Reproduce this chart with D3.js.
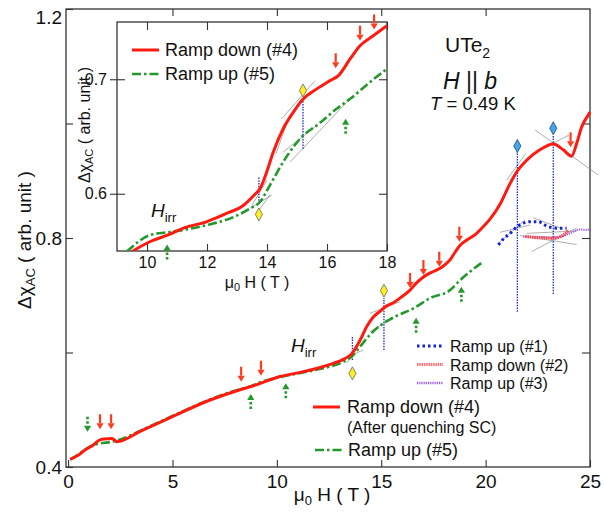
<!DOCTYPE html>
<html>
<head>
<meta charset="utf-8">
<script src="https://cdn.jsdelivr.net/npm/d3@7"></script>
<style>
body{margin:0;background:#fff;}
svg{font-family:"Liberation Sans",Arial,Helvetica,sans-serif;}
</style>
</head>
<body>
<svg id="chart" width="604" height="515"></svg>
<script>
// values: [field mu0H (T), delta chi_AC (arb. unit)]
const rampDown4 = [[0.1,0.4135],[0.5,0.421],[0.81,0.4297],[1.21,0.4384],[1.45,0.446],[1.69,0.449],[2.09,0.450],[2.22,0.447],[2.33,0.444],
  [3.5,0.463],[5.0,0.488],[6.8,0.517],[8.24,0.535],[8.8,0.541],[9.2,0.546],[10.15,0.558],[10.95,0.564],[11.9,0.572],
  [12.7,0.581],[13.19,0.588],[13.59,0.598],[13.98,0.621],[14.3,0.645],[14.62,0.662],[14.94,0.672],[15.2,0.68],[15.58,0.687],[15.9,0.695],
  [16.38,0.709],[16.7,0.722],[17.02,0.732],[17.4,0.740],[17.82,0.747],[18.1,0.755],[18.3,0.762],[18.55,0.776],[18.77,0.787],[19.1,0.7965],
  [19.5,0.806],[19.89,0.82],[20.21,0.833],[20.69,0.859],[21.17,0.895],[21.54,0.918],[21.97,0.936],[22.6,0.954],[23.24,0.964],[23.72,0.954],
  [24.12,0.943],[24.36,0.965],[24.6,0.994],[24.92,1.015],[25.0,1.02]];
const rampUp5 = [[0.1,0.4135],[0.5,0.422],[0.9,0.4327],[1.2,0.438],[1.53,0.4413],[1.93,0.443],[2.25,0.4454],[2.5,0.448],[3.5,0.464],
  [5.0,0.489],[6.8,0.518],[8.24,0.536],[8.75,0.541],[9.2,0.548],[10.15,0.557],[10.95,0.563],[11.9,0.570],[12.7,0.577],[13.19,0.584],[13.59,0.593],
  [13.98,0.61],[14.46,0.631],[15.1,0.651],[15.42,0.658],[15.74,0.664],[16.54,0.677],[17.34,0.695],[18.3,0.709],[18.77,0.726],[19.25,0.741],
  [19.9,0.759]];
const rampUp1 = [[20.61,0.788],[20.9,0.800],[21.17,0.808],[21.45,0.818],[21.65,0.823],[22.13,0.8285],[22.52,0.8285],[22.92,0.821],[23.4,0.817],[23.88,0.817]];
const rampDown2 = [[21.9,0.803],[22.3,0.801],[22.6,0.8005],[23.24,0.7995],[23.55,0.802],[23.72,0.805],[23.96,0.813]];
const rampUp3 = [[21.8,0.802],[22.4,0.802],[23.0,0.801],[23.56,0.802],[23.9,0.806],[24.2,0.811],[24.52,0.815],[24.84,0.814],[25.0,0.816]];

// inset (zoom of 9-18 T)
const insetDown4 = [[9.5,0.5496],[10.11,0.5583],[10.7,0.564],[11.22,0.57],[12.0,0.5757],[12.67,0.583],[13.22,0.59],[13.56,0.5985],
  [13.77,0.6046],[13.99,0.619],[14.21,0.6365],[14.54,0.6568],[14.88,0.6713],[15.19,0.6823],[15.66,0.6916],[16.1,0.6988],[16.38,0.7032],
  [16.77,0.7177],[17.1,0.7293],[17.54,0.738],[17.99,0.7467]];
const insetUp5 = [[9.33,0.5496],[10.11,0.564],[10.67,0.5663],[11.22,0.5684],[12.0,0.5727],[12.78,0.5785],[13.44,0.5872],[13.77,0.593],
  [14.1,0.6076],[14.54,0.6278],[14.88,0.6409],[15.21,0.651],[15.66,0.6597],[16.32,0.6742],[16.77,0.6829],[17.43,0.6974],[17.99,0.709]];

// arrows: [field, value at arrow tip]
const redArrows = [[1.53,0.466],[2.06,0.466],[8.29,0.549],[9.24,0.5595],[16.38,0.7127],[17.02,0.7354],[17.78,0.7499],[18.74,0.7935],[24.07,0.9584]];
const greenDownArrows = [[0.93,0.4617]];
const greenUpArrows = [[8.75,0.5275],[10.43,0.5462],[16.67,0.6608],[18.84,0.7149]];
const insetRedArrows = [[16.29,0.7096],[17.1,0.7337],[17.57,0.7435]];
const insetGreenArrows = [[10.67,0.5557],[16.62,0.6655]];

// transition markers: [field, lower, upper] and diamonds [field, value]
const markerLines = [[13.62,0.5869,0.6293],[15.13,0.6044,0.6952],[21.52,0.6713,0.9502],[23.24,0.7022,0.9799]];
const yellowDiamonds = [[13.62,0.5637],[15.13,0.708]];
const blueDiamonds = [[21.52,0.9607],[23.24,0.9916]];
const insetMarkerLines = [[13.73,0.5916,0.6148],[15.2,0.6394,0.6843]];
const insetDiamonds = [[13.73,0.582],[15.2,0.6902]];

// thin gray tangents [h1,v1,h2,v2]
const tangents = [[13.03,0.5869,14.14,0.6044],[13.35,0.5817,13.95,0.617],[14.46,0.6685,15.9,0.6887],[14.46,0.6363,15.58,0.6597],
  [21.0,0.901,21.93,0.948],[22.37,0.9886,25.4,0.91],[23.2,0.965,24.0,0.98],
  [20.61,0.7908,21.89,0.8318],[20.69,0.8099,22.13,0.8227],[22.28,0.8353,23.56,0.8178],[21.65,0.8043,24.36,0.7886],
  [22.21,0.7764,24.36,0.8175],[21.97,0.8081,24.36,0.8122]];
const insetTangents = [[14.49,0.6655,15.6,0.6988],[14.3,0.635,14.75,0.668],[14.54,0.6365,15.66,0.6597],[14.77,0.6278,16.66,0.68],
  [13.43,0.5872,14.16,0.5989],[13.66,0.5832,14.1,0.5989],[13.5,0.590,14.0,0.612]];

const xTicks = [0,5,10,15,20,25];
const yTicks = [0.4,0.6,0.8,1.0,1.2];
const yLabelled = [0.4,0.8,1.2];
const insetXTicks = [10,12,14,16,18];
const insetYTicks = [0.6,0.7];

const RED = "#ff1a10", GREEN = "#22992a", ARROW_RED = "#ff3b1f";

const svg = d3.select("#chart");
const x = d3.scaleLinear().domain([-0.1,25]).range([66,590]);
const y = d3.scaleLinear().domain([0.4,1.2]).range([467,9]);
const xi = d3.scaleLinear().domain([9,18]).range([117,387]);
const yi = d3.scaleLinear().domain([0.55,0.75]).range([251,22]);

const tidy = g => {
  g.select(".domain").remove();
  g.selectAll(".tick line").attr("stroke","#333").attr("stroke-width",1.1);
  g.selectAll(".tick text").attr("fill","#111").attr("font-family",null);
};

// ---- main frame & axes
svg.append("rect").attr("x",66).attr("y",9).attr("width",524).attr("height",458)
  .attr("fill","none").attr("stroke","#333").attr("stroke-width",1.3);

svg.append("g").attr("transform","translate(0,467)")
  .call(d3.axisBottom(x).tickValues(xTicks).tickSizeInner(-7).tickSizeOuter(0).tickPadding(8))
  .call(tidy).attr("font-size",19);
svg.append("g").attr("transform","translate(0,9)")
  .call(d3.axisTop(x).tickValues([5,10,15,20]).tickFormat("").tickSizeInner(-7).tickSizeOuter(0))
  .call(tidy);
const yAx = svg.append("g").attr("transform","translate(66,0)")
  .call(d3.axisLeft(y).tickValues(yTicks).tickFormat(d=> yLabelled.includes(d) ? d3.format(".1f")(d) : "")
    .tickSizeInner(-7).tickSizeOuter(0).tickPadding(4))
  .call(tidy).attr("font-size",19);
yAx.selectAll(".tick text").filter(d=>d===1.2).attr("dy","0.75em");
svg.append("g").attr("transform","translate(590,0)")
  .call(d3.axisRight(y).tickValues(yTicks.slice(1,4)).tickFormat("").tickSizeInner(-8).tickSizeOuter(0))
  .call(tidy);

// axis titles
svg.append("text").attr("transform","translate(31,240) rotate(-90)").attr("text-anchor","middle")
  .attr("font-size",19).attr("fill","#111")
  .call(t=>{ t.append("tspan").text("Δχ");
    t.append("tspan").attr("font-size",13).attr("dy",4).text("AC");
    t.append("tspan").attr("dy",-4).text(" ( arb. unit )"); });
svg.append("text").attr("x",332).attr("y",501).attr("text-anchor","middle").attr("font-size",19).attr("fill","#111")
  .call(t=>{ t.append("tspan").text("μ");
    t.append("tspan").attr("font-size",13).attr("dy",4).text("0");
    t.append("tspan").attr("dy",-4).text(" H ( T )"); });

// ---- helpers
const lineOf = (sx,sy) => d3.line().x(d=>sx(d[0])).y(d=>sy(d[1])).curve(d3.curveMonotoneX);
const diamond = "M0,-6.5L3.6,0L0,6.5L-3.6,0Z";

function drawArrows(g, data, sx, sy, color, dir, dotted){
  // dir = 1 : pointing down (tail above tip), -1 : pointing up
  const len = 15, head = 6;
  const a = g.selectAll(null).data(data).enter().append("g")
    .attr("transform", d=>"translate("+sx(d[0])+","+sy(d[1])+")");
  a.append("line").attr("x1",0).attr("x2",0)
    .attr("y1",-dir*len).attr("y2",-dir*head)
    .attr("stroke",color).attr("stroke-width",dotted?2.6:2.2)
    .attr("stroke-dasharray",dotted?"2.5,2":null);
  a.append("path").attr("d","M0,0L-3.6,"+(-dir*head)+"L3.6,"+(-dir*head)+"Z").attr("fill",color);
}

function drawTangents(g, data, sx, sy){
  g.selectAll(null).data(data).enter().append("line")
    .attr("x1",d=>sx(d[0])).attr("y1",d=>sy(d[1])).attr("x2",d=>sx(d[2])).attr("y2",d=>sy(d[3]))
    .attr("stroke","#8a8a8a").attr("stroke-width",0.7);
}

function drawMarkers(g, lines, sx, sy){
  g.selectAll(null).data(lines).enter().append("line")
    .attr("x1",d=>sx(d[0])).attr("x2",d=>sx(d[0])).attr("y1",d=>sy(d[1])).attr("y2",d=>sy(d[2]))
    .attr("stroke","#1a2acc").attr("stroke-width",1.3).attr("stroke-dasharray","1.5,1.2");
}
function drawDiamonds(g, data, sx, sy, fill, stroke){
  g.selectAll(null).data(data).enter().append("path").attr("d",diamond)
    .attr("transform",d=>"translate("+sx(d[0])+","+sy(d[1])+")")
    .attr("fill",fill).attr("stroke",stroke).attr("stroke-width",0.8);
}

// ---- main plot marks
const main = svg.append("g");
drawTangents(main, tangents, x, y);
drawMarkers(main, markerLines, x, y);
main.append("path").datum(rampUp3).attr("d",lineOf(x,y)).attr("fill","none")
  .attr("stroke","#9a55f0").attr("stroke-width",2).attr("stroke-dasharray","1.2,1");
main.append("path").datum(rampDown2).attr("d",lineOf(x,y)).attr("fill","none")
  .attr("stroke","#ff4a4a").attr("stroke-width",3.2).attr("stroke-dasharray","1.5,0.8");
main.append("path").datum(rampUp1).attr("d",lineOf(x,y)).attr("fill","none")
  .attr("stroke","#1020e0").attr("stroke-width",3).attr("stroke-dasharray","2.5,3");
main.append("path").datum(rampUp5).attr("d",lineOf(x,y)).attr("fill","none")
  .attr("stroke",GREEN).attr("stroke-width",2.6).attr("stroke-dasharray","9,3,2.5,3");
main.append("path").datum(rampDown4).attr("d",lineOf(x,y)).attr("fill","none")
  .attr("stroke",RED).attr("stroke-width",3);
drawDiamonds(main, yellowDiamonds, x, y, "#ffee22", "#666");
drawDiamonds(main, blueDiamonds, x, y, "#3fa6e8", "#1d4d7a");
drawArrows(main, redArrows, x, y, ARROW_RED, 1, false);
drawArrows(main, greenDownArrows, x, y, GREEN, 1, true);
drawArrows(main, greenUpArrows, x, y, GREEN, -1, true);

// H_irr label in main panel
svg.append("text").attr("x",291).attr("y",352).attr("font-size",19).attr("fill","#111")
  .call(t=>{ t.append("tspan").attr("font-style","italic").text("H");
    t.append("tspan").attr("font-size",13).attr("dy",5).text("irr"); });

// sample info
svg.append("text").attr("x",445).attr("y",52).attr("font-size",21).attr("fill","#111")
  .call(t=>{ t.append("tspan").text("UTe");
    t.append("tspan").attr("font-size",14).attr("dy",6).text("2"); });
svg.append("text").attr("x",443).attr("y",89).attr("font-size",23).attr("fill","#111")
  .call(t=>{ t.append("tspan").attr("font-style","italic").text("H");
    t.append("tspan").text(" || ");
    t.append("tspan").attr("font-style","italic").text("b"); });
svg.append("text").attr("x",430).attr("y",110).attr("font-size",18.5).attr("fill","#111")
  .call(t=>{ t.append("tspan").attr("font-style","italic").text("T");
    t.append("tspan").text(" = 0.49 K"); });

// lower-right legend
const legendMain = [
  {label:"Ramp up (#1)", y:346, color:"#1020e0", w:3, dash:"2.5,3", x1:417, x2:443, tx:450, fs:16},
  {label:"Ramp down (#2)", y:364.5, color:"#ff7070", w:3, dash:"1.5,0.8", x1:417, x2:443, tx:450, fs:16},
  {label:"Ramp up (#3)", y:383, color:"#9a55f0", w:2.5, dash:"1.2,1", x1:417, x2:443, tx:450, fs:16},
  {label:"Ramp down (#4)", y:407, color:RED, w:3, dash:null, x1:313, x2:340, tx:347, fs:18},
  {label:"Ramp up (#5)", y:450, color:GREEN, w:2.6, dash:"9,3,2.5,3", x1:315, x2:342, tx:348, fs:18}
];
const lg = svg.append("g");
lg.selectAll(null).data(legendMain).enter().append("line")
  .attr("x1",d=>d.x1).attr("x2",d=>d.x2).attr("y1",d=>d.y).attr("y2",d=>d.y)
  .attr("stroke",d=>d.color).attr("stroke-width",d=>d.w).attr("stroke-dasharray",d=>d.dash);
lg.selectAll(null).data(legendMain).enter().append("text")
  .attr("x",d=>d.tx).attr("y",d=>d.y+6).attr("font-size",d=>d.fs).attr("fill","#111").text(d=>d.label);
lg.append("text").attr("x",347).attr("y",433).attr("font-size",16).attr("fill","#111").text("(After quenching SC)");

// ---- inset
const inset = svg.append("g");
inset.append("rect").attr("x",117).attr("y",22).attr("width",270).attr("height",229)
  .attr("fill","#fff").attr("stroke","#333").attr("stroke-width",1.3);
inset.append("g").attr("transform","translate(0,251)")
  .call(d3.axisBottom(xi).tickValues(insetXTicks).tickSizeInner(-7).tickSizeOuter(0).tickPadding(6))
  .call(tidy).attr("font-size",16);
inset.append("g").attr("transform","translate(0,22)")
  .call(d3.axisTop(xi).tickValues(insetXTicks).tickFormat("").tickSizeInner(-8).tickSizeOuter(0))
  .call(tidy);
inset.append("g").attr("transform","translate(117,0)")
  .call(d3.axisLeft(yi).tickValues(insetYTicks).tickFormat(d3.format(".1f")).tickSizeInner(7).tickSizeOuter(0).tickPadding(3))
  .call(tidy).attr("font-size",16);
inset.append("g").attr("transform","translate(117,0)")
  .call(d3.axisRight(yi).tickValues(insetYTicks).tickFormat("").tickSizeInner(8).tickSizeOuter(0))
  .call(tidy);
inset.append("g").attr("transform","translate(387,0)")
  .call(d3.axisLeft(yi).tickValues(insetYTicks).tickFormat("").tickSizeInner(8).tickSizeOuter(0))
  .call(tidy);

inset.append("text").attr("transform","translate(90,125) rotate(-90)").attr("text-anchor","middle")
  .attr("font-size",16).attr("fill","#111")
  .call(t=>{ t.append("tspan").text("Δχ");
    t.append("tspan").attr("font-size",11).attr("dy",3).text("AC");
    t.append("tspan").attr("dy",-3).text(" ( arb. unit )"); });
inset.append("text").attr("x",257).attr("y",288).attr("text-anchor","middle").attr("font-size",16).attr("fill","#111")
  .call(t=>{ t.append("tspan").text("μ");
    t.append("tspan").attr("font-size",11).attr("dy",3).text("0");
    t.append("tspan").attr("dy",-3).text(" H ( T )"); });

svg.append("clipPath").attr("id","insetClip").append("rect")
  .attr("x",117).attr("y",22).attr("width",270).attr("height",229);
const ip = inset.append("g").attr("clip-path","url(#insetClip)");
drawTangents(ip, insetTangents, xi, yi);
drawMarkers(ip, insetMarkerLines, xi, yi);
ip.append("path").datum(insetUp5).attr("d",lineOf(xi,yi)).attr("fill","none")
  .attr("stroke",GREEN).attr("stroke-width",2.6).attr("stroke-dasharray","9,3,2.5,3");
ip.append("path").datum(insetDown4).attr("d",lineOf(xi,yi)).attr("fill","none")
  .attr("stroke",RED).attr("stroke-width",3);
drawDiamonds(inset, insetDiamonds, xi, yi, "#ffee22", "#666");
drawArrows(inset, insetRedArrows, xi, yi, ARROW_RED, 1, false);
drawArrows(inset, insetGreenArrows, xi, yi, GREEN, -1, true);

inset.append("text").attr("x",151).attr("y",217).attr("font-size",19).attr("fill","#111")
  .call(t=>{ t.append("tspan").attr("font-style","italic").text("H");
    t.append("tspan").attr("font-size",13).attr("dy",5).text("irr"); });

const legendInset = [
  {label:"Ramp down (#4)", y:50, color:RED, w:3, dash:null},
  {label:"Ramp up (#5)", y:74, color:GREEN, w:2.6, dash:"9,3,2.5,3"}
];
inset.selectAll(null).data(legendInset).enter().append("line")
  .attr("x1",132).attr("x2",159).attr("y1",d=>d.y).attr("y2",d=>d.y)
  .attr("stroke",d=>d.color).attr("stroke-width",d=>d.w).attr("stroke-dasharray",d=>d.dash);
inset.selectAll(null).data(legendInset).enter().append("text")
  .attr("x",165).attr("y",d=>d.y+6).attr("font-size",18).attr("fill","#111").text(d=>d.label);
</script>
</body>
</html>
